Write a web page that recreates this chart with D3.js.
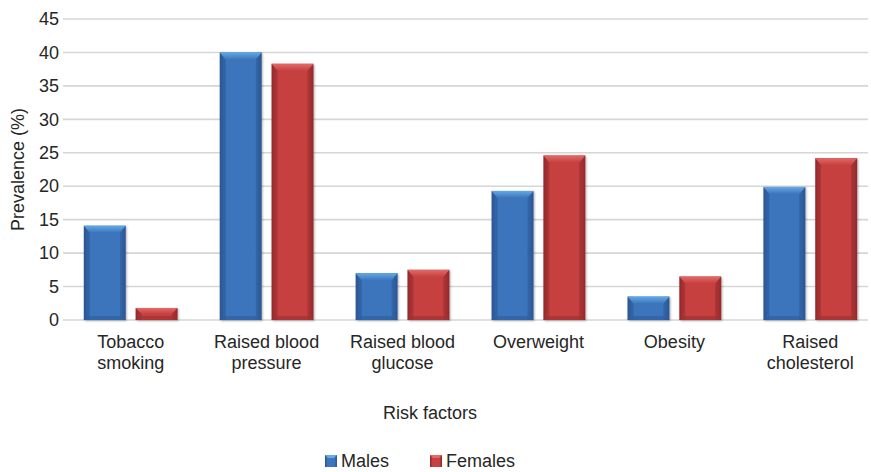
<!DOCTYPE html>
<html><head><meta charset="utf-8">
<script src="https://cdn.jsdelivr.net/npm/d3@7"></script>
<style>
html,body{margin:0;padding:0;background:#fff;}
svg{display:block;font-family:"Liberation Sans",Arial,Helvetica,sans-serif;}
</style></head>
<body>
<svg id="chart" width="871" height="472"></svg>
<script>
const categories = ["Tobacco smoking","Raised blood pressure","Raised blood glucose","Overweight","Obesity","Raised cholesterol"];
const categoryLines = [["Tobacco","smoking"],["Raised blood","pressure"],["Raised blood","glucose"],["Overweight"],["Obesity"],["Raised","cholesterol"]];
const seriesNames = ["Males","Females"];
const males = [14.1, 40.0, 7.0, 19.3, 3.5, 19.9];
const females = [1.8, 38.3, 7.5, 24.6, 6.5, 24.2];
const yTicks = [0,5,10,15,20,25,30,35,40,45];

(function(){
const svg = d3.select("#chart");
const pL = 63, pR = 868, pT = 19, pB = 320;
const y = d3.scaleLinear().domain([0,45]).range([pB, pT]);
const x0 = d3.scaleBand().domain(categories).range([pL, 878]).paddingInner(0.31).paddingOuter(0.153);
const x1 = d3.scaleBand().domain(seriesNames).range([0, x0.bandwidth()]).paddingInner(0.19);

const defs = svg.append("defs");
const palettes = {
  Males: {edge:"#2b5592", mid:"#3d75bd", top:"#63aae6", side:"#3367ab", bot:"#2f5f9f"},
  Females: {edge:"#922a2d", mid:"#c6413f", top:"#e26a69", side:"#b03537", bot:"#a23033"}
};
seriesNames.forEach(s => {
  const p = palettes[s];
  const g = defs.append("linearGradient").attr("id","g"+s).attr("x1","0").attr("x2","1").attr("y1","0").attr("y2","0");
  g.append("stop").attr("offset","0").attr("stop-color",p.edge);
  g.append("stop").attr("offset","0.14").attr("stop-color",p.side);
  g.append("stop").attr("offset","0.15").attr("stop-color",p.mid);
  g.append("stop").attr("offset","0.85").attr("stop-color",p.mid);
  g.append("stop").attr("offset","0.86").attr("stop-color",p.side);
  g.append("stop").attr("offset","1").attr("stop-color",p.edge);
  const t = defs.append("linearGradient").attr("id","t"+s).attr("x1","0").attr("x2","0").attr("y1","0").attr("y2","1");
  t.append("stop").attr("offset","0").attr("stop-color",p.top);
  t.append("stop").attr("offset","1").attr("stop-color",p.mid);
});
const sh = defs.append("filter").attr("id","shadow").attr("x","-20%").attr("y","-20%").attr("width","140%").attr("height","140%");
sh.append("feDropShadow").attr("dx",1).attr("dy",1).attr("stdDeviation",1.2).attr("flood-color","#000").attr("flood-opacity",0.3);

svg.append("g").selectAll("line").data(yTicks).join("line")
  .attr("x1", pL).attr("x2", pR)
  .attr("y1", d => y(d)).attr("y2", d => y(d))
  .attr("stroke","#d6d6d6").attr("stroke-width",1.6);

const yAxis = d3.axisLeft(y).tickValues(yTicks).tickSize(0).tickPadding(4);
const ya = svg.append("g").attr("transform",`translate(${pL},0)`).call(yAxis);
ya.select(".domain").remove();
ya.selectAll("text").attr("font-size",18).attr("fill","#262626").attr("font-family","Liberation Sans, Arial, sans-serif");

svg.append("text").attr("transform",`translate(24,${(pT+pB)/2}) rotate(-90)`)
  .attr("text-anchor","middle").attr("font-size",18).attr("fill","#262626").text("Prevalence (%)");

const data = categories.map((c,i) => ({cat:c, vals:[{s:"Males",v:males[i]},{s:"Females",v:females[i]}]}));
const groups = svg.append("g").selectAll("g").data(data).join("g")
  .attr("transform", d => `translate(${x0(d.cat)},0)`);
groups.selectAll("g.bar").data(d => d.vals).join("g").attr("class","bar").each(function(d){
  const g = d3.select(this);
  const bx = x1(d.s), bw = x1.bandwidth(), by = y(d.v), bh = y(0) - y(d.v);
  const p = palettes[d.s];
  g.append("rect").attr("x",bx).attr("y",by).attr("width",bw).attr("height",bh)
    .attr("fill",`url(#g${d.s})`).attr("filter","url(#shadow)");
  const bev = Math.min(7, bh/2), inset = 6;
  g.append("path").attr("d",`M${bx},${by}L${bx+bw},${by}L${bx+bw-inset},${by+bev}L${bx+inset},${by+bev}Z`)
    .attr("fill",`url(#t${d.s})`);
  const bb = Math.min(4,bh/3);
  g.append("path").attr("d",`M${bx},${by+bh}L${bx+bw},${by+bh}L${bx+bw-inset},${by+bh-bb}L${bx+inset},${by+bh-bb}Z`)
    .attr("fill",p.bot).attr("opacity",0.7);
});

const cl = svg.append("g");
categories.forEach((c,i) => {
  const cx = x0(c) + x0.bandwidth()/2;
  const t = cl.append("text").attr("text-anchor","middle").attr("font-size",18).attr("fill","#262626")
    .attr("x", cx).attr("y", 348);
  categoryLines[i].forEach((ln,j) => t.append("tspan").attr("x", cx).attr("dy", j===0?0:21).text(ln));
});

svg.append("text").attr("x",430).attr("y",419).attr("text-anchor","middle").attr("font-size",18).attr("fill","#262626").text("Risk factors");

const legX = [325, 430];
const lg = svg.append("g");
seriesNames.forEach((s,i) => {
  const p = palettes[s];
  lg.append("rect").attr("x",legX[i]).attr("y",455).attr("width",12).attr("height",12).attr("fill",`url(#g${s})`);
  lg.append("path").attr("d",`M${legX[i]},455L${legX[i]+12},455L${legX[i]+9},458L${legX[i]+3},458Z`).attr("fill",p.top);
  lg.append("text").attr("x",legX[i]+16).attr("y",467).attr("font-size",18).attr("fill","#262626").text(s);
});
})();
</script>
</body></html>
